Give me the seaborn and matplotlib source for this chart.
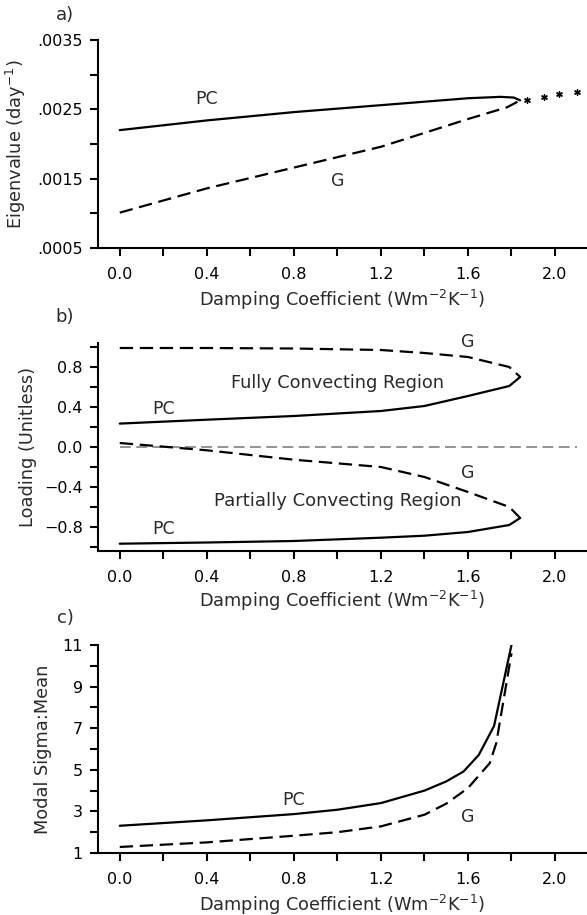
import numpy as np
import pandas as pd
import matplotlib
matplotlib.use("Agg")
import matplotlib.pyplot as plt
import seaborn as sns
from matplotlib.ticker import FixedLocator

# ---------------- data ----------------
# panel a: eigenvalues
a_pc_x = [0.0, 0.4, 0.8, 1.2, 1.6, 1.75, 1.81, 1.84]
a_pc_y = [0.00220, 0.00234, 0.00246, 0.00256, 0.00266, 0.00268, 0.00267, 0.00263]
a_g_x = [0.0, 0.4, 0.8, 1.2, 1.6, 1.78, 1.84]
a_g_y = [0.00101, 0.00136, 0.00166, 0.00196, 0.00236, 0.00253, 0.00263]
a_star_x = [1.87, 1.95, 2.02, 2.10]
a_star_y = [0.00264, 0.00268, 0.00272, 0.00275]

# panel b: loadings
b_gu_x = [0.0, 0.4, 0.8, 1.2, 1.4, 1.6, 1.79, 1.84]
b_gu_y = [0.99, 0.99, 0.985, 0.97, 0.94, 0.90, 0.80, 0.70]
b_pcu_x = [0.0, 0.4, 0.8, 1.2, 1.4, 1.6, 1.79, 1.84]
b_pcu_y = [0.234, 0.273, 0.31, 0.36, 0.41, 0.51, 0.61, 0.70]
b_gl_x = [0.0, 0.4, 0.8, 1.2, 1.4, 1.6, 1.79, 1.84]
b_gl_y = [0.04, -0.033, -0.127, -0.20, -0.30, -0.45, -0.60, -0.71]
b_pcl_x = [0.0, 0.4, 0.8, 1.2, 1.4, 1.6, 1.79, 1.84]
b_pcl_y = [-0.967, -0.955, -0.94, -0.907, -0.887, -0.85, -0.78, -0.71]
b_zero_x = [0.0, 2.10]
b_zero_y = [0.0, 0.0]

# panel c: modal sigma:mean
c_pc_x = [0.0, 0.4, 0.8, 1.0, 1.2, 1.4, 1.5, 1.58, 1.65, 1.72, 1.80]
c_pc_y = [2.31, 2.57, 2.87, 3.08, 3.40, 4.00, 4.44, 4.92, 5.72, 7.11, 11.0]
c_g_x = [0.0, 0.4, 0.8, 1.0, 1.2, 1.4, 1.5, 1.6, 1.7, 1.73, 1.80]
c_g_y = [1.29, 1.51, 1.83, 2.00, 2.28, 2.84, 3.37, 4.12, 5.32, 6.28, 10.6]

x_ticks = [0.0, 0.4, 0.8, 1.2, 1.6, 2.0]
x_tick_labels = ["0.0", "0.4", "0.8", "1.2", "1.6", "2.0"]
a_yticks = [0.0005, 0.0015, 0.0025, 0.0035]
a_ytick_labels = [".0005", ".0015", ".0025", ".0035"]
b_yticks = [-0.8, -0.4, 0.0, 0.4, 0.8]
b_ytick_labels = ["\u22120.8", "\u22120.4", "0.0", "0.4", "0.8"]
c_yticks = [1, 3, 5, 7, 9, 11]
c_ytick_labels = ["1", "3", "5", "7", "9", "11"]

xlabel = "Damping Coefficient (Wm$^{-2}$K$^{-1}$)"

# ---------------- style ----------------
sns.set_theme(style="ticks")
plt.rcParams["font.family"] = ["DejaVu Sans"]
plt.rcParams["mathtext.fontset"] = "dejavusans"

W, H = 587, 915
fig = plt.figure(figsize=(W / 100, H / 100), dpi=100)

TXT = "#2a2a2a"
DASH = (0, (6, 3))
LW = 1.6

def px_axes(left, top, right, bottom):
    return fig.add_axes([left / W, 1 - bottom / H, (right - left) / W, (bottom - top) / H])

def style_axes(ax, xl, ylim, yticks, ylabels, yminor, ylab, ylab_x, ylab_y, xlab_y):
    ax.set_xlim(*xl)
    ax.set_ylim(*ylim)
    ax.set_xticks(x_ticks)
    ax.set_xticklabels(x_tick_labels)
    ax.xaxis.set_minor_locator(FixedLocator([0.2, 0.6, 1.0, 1.4, 1.8]))
    ax.set_yticks(yticks)
    ax.set_yticklabels(ylabels)
    ax.yaxis.set_minor_locator(FixedLocator(yminor))
    for s in ["top", "right"]:
        ax.spines[s].set_visible(False)
    for s in ["left", "bottom"]:
        ax.spines[s].set_linewidth(1.5)
        ax.spines[s].set_color("black")
    ax.tick_params(which="both", direction="out", length=6, width=1.5, color="black")
    ax.tick_params(axis="x", labelsize=11.5, pad=8, labelcolor="black")
    ax.tick_params(axis="y", labelsize=11.5, pad=5, labelcolor="black")
    ax.set_xlabel(xlabel, fontsize=12.8, color=TXT)
    ax.xaxis.set_label_coords(0.5, xlab_y)
    ax.set_ylabel(ylab, fontsize=12.8, color=TXT)
    ax.yaxis.set_label_coords(ylab_x, ylab_y)
    ax.set_facecolor("white")

XL = (-0.1, 2.147)

# ---------------- panel a ----------------
ax1 = px_axes(98, 40, 587, 248)
sns.lineplot(x=a_pc_x, y=a_pc_y, ax=ax1, color="black", lw=LW, sort=False, estimator=None)
sns.lineplot(x=a_g_x, y=a_g_y, ax=ax1, color="black", lw=LW, sort=False, estimator=None, linestyle=DASH)
sns.scatterplot(x=a_star_x, y=a_star_y, ax=ax1, color="black", marker=(6, 2, 0), s=16, linewidth=1.0, edgecolor="black")
style_axes(ax1, XL, (0.0005, 0.0035), a_yticks, a_ytick_labels, [0.001, 0.002, 0.003],
           "Eigenvalue (day$^{-1}$)", -0.143, 0.5, -0.19)
ax1.text(0.4, 0.00265, "PC", fontsize=12.5, color=TXT, ha="center", va="center")
ax1.text(1.0, 0.00146, "G", fontsize=12.5, color=TXT, ha="center", va="center")

# ---------------- panel b ----------------
ax2 = px_axes(98, 343, 587, 551)
sns.lineplot(x=b_zero_x, y=b_zero_y, ax=ax2, color="#8a8a8a", lw=1.3, sort=False, estimator=None, linestyle=DASH)
sns.lineplot(x=b_gu_x, y=b_gu_y, ax=ax2, color="black", lw=LW, sort=False, estimator=None, linestyle=DASH)
sns.lineplot(x=b_pcu_x, y=b_pcu_y, ax=ax2, color="black", lw=LW, sort=False, estimator=None)
sns.lineplot(x=b_gl_x, y=b_gl_y, ax=ax2, color="black", lw=LW, sort=False, estimator=None, linestyle=DASH)
sns.lineplot(x=b_pcl_x, y=b_pcl_y, ax=ax2, color="black", lw=LW, sort=False, estimator=None)
style_axes(ax2, XL, (-1.04, 1.04), b_yticks, b_ytick_labels, [-1.0, -0.6, -0.2, 0.2, 0.6, 1.0],
           "Loading (Unitless)", -0.125, 0.5, -0.183)
ax2.text(0.2, 0.38, "PC", fontsize=12.5, color=TXT, ha="center", va="center")
ax2.text(1.6, 1.05, "G", fontsize=12.5, color=TXT, ha="center", va="center")
ax2.text(1.0, 0.645, "Fully Convecting Region", fontsize=12.8, color=TXT, ha="center", va="center")
ax2.text(1.6, -0.26, "G", fontsize=12.5, color=TXT, ha="center", va="center")
ax2.text(1.0, -0.54, "Partially Convecting Region", fontsize=13, color=TXT, ha="center", va="center")
ax2.text(0.2, -0.82, "PC", fontsize=12.5, color=TXT, ha="center", va="center")

# ---------------- panel c ----------------
ax3 = px_axes(98, 645, 587, 853)
sns.lineplot(x=c_pc_x, y=c_pc_y, ax=ax3, color="black", lw=LW, sort=False, estimator=None)
sns.lineplot(x=c_g_x, y=c_g_y, ax=ax3, color="black", lw=LW, sort=False, estimator=None, linestyle=DASH)
style_axes(ax3, XL, (1, 11), c_yticks, c_ytick_labels, [2, 4, 6, 8, 10],
           "Modal Sigma:Mean", -0.094, 0.5, -0.19)
ax3.text(0.8, 3.54, "PC", fontsize=12.5, color=TXT, ha="center", va="center")
ax3.text(1.6, 2.73, "G", fontsize=12.5, color=TXT, ha="center", va="center")

# panel letters
fig.text(65 / W, 1 - 15 / H, "a)", fontsize=13, color=TXT, ha="center", va="center")
fig.text(65 / W, 1 - 317 / H, "b)", fontsize=13, color=TXT, ha="center", va="center")
fig.text(65 / W, 1 - 618 / H, "c)", fontsize=13, color=TXT, ha="center", va="center")

fig.savefig("out.png", dpi=100, facecolor="white")
